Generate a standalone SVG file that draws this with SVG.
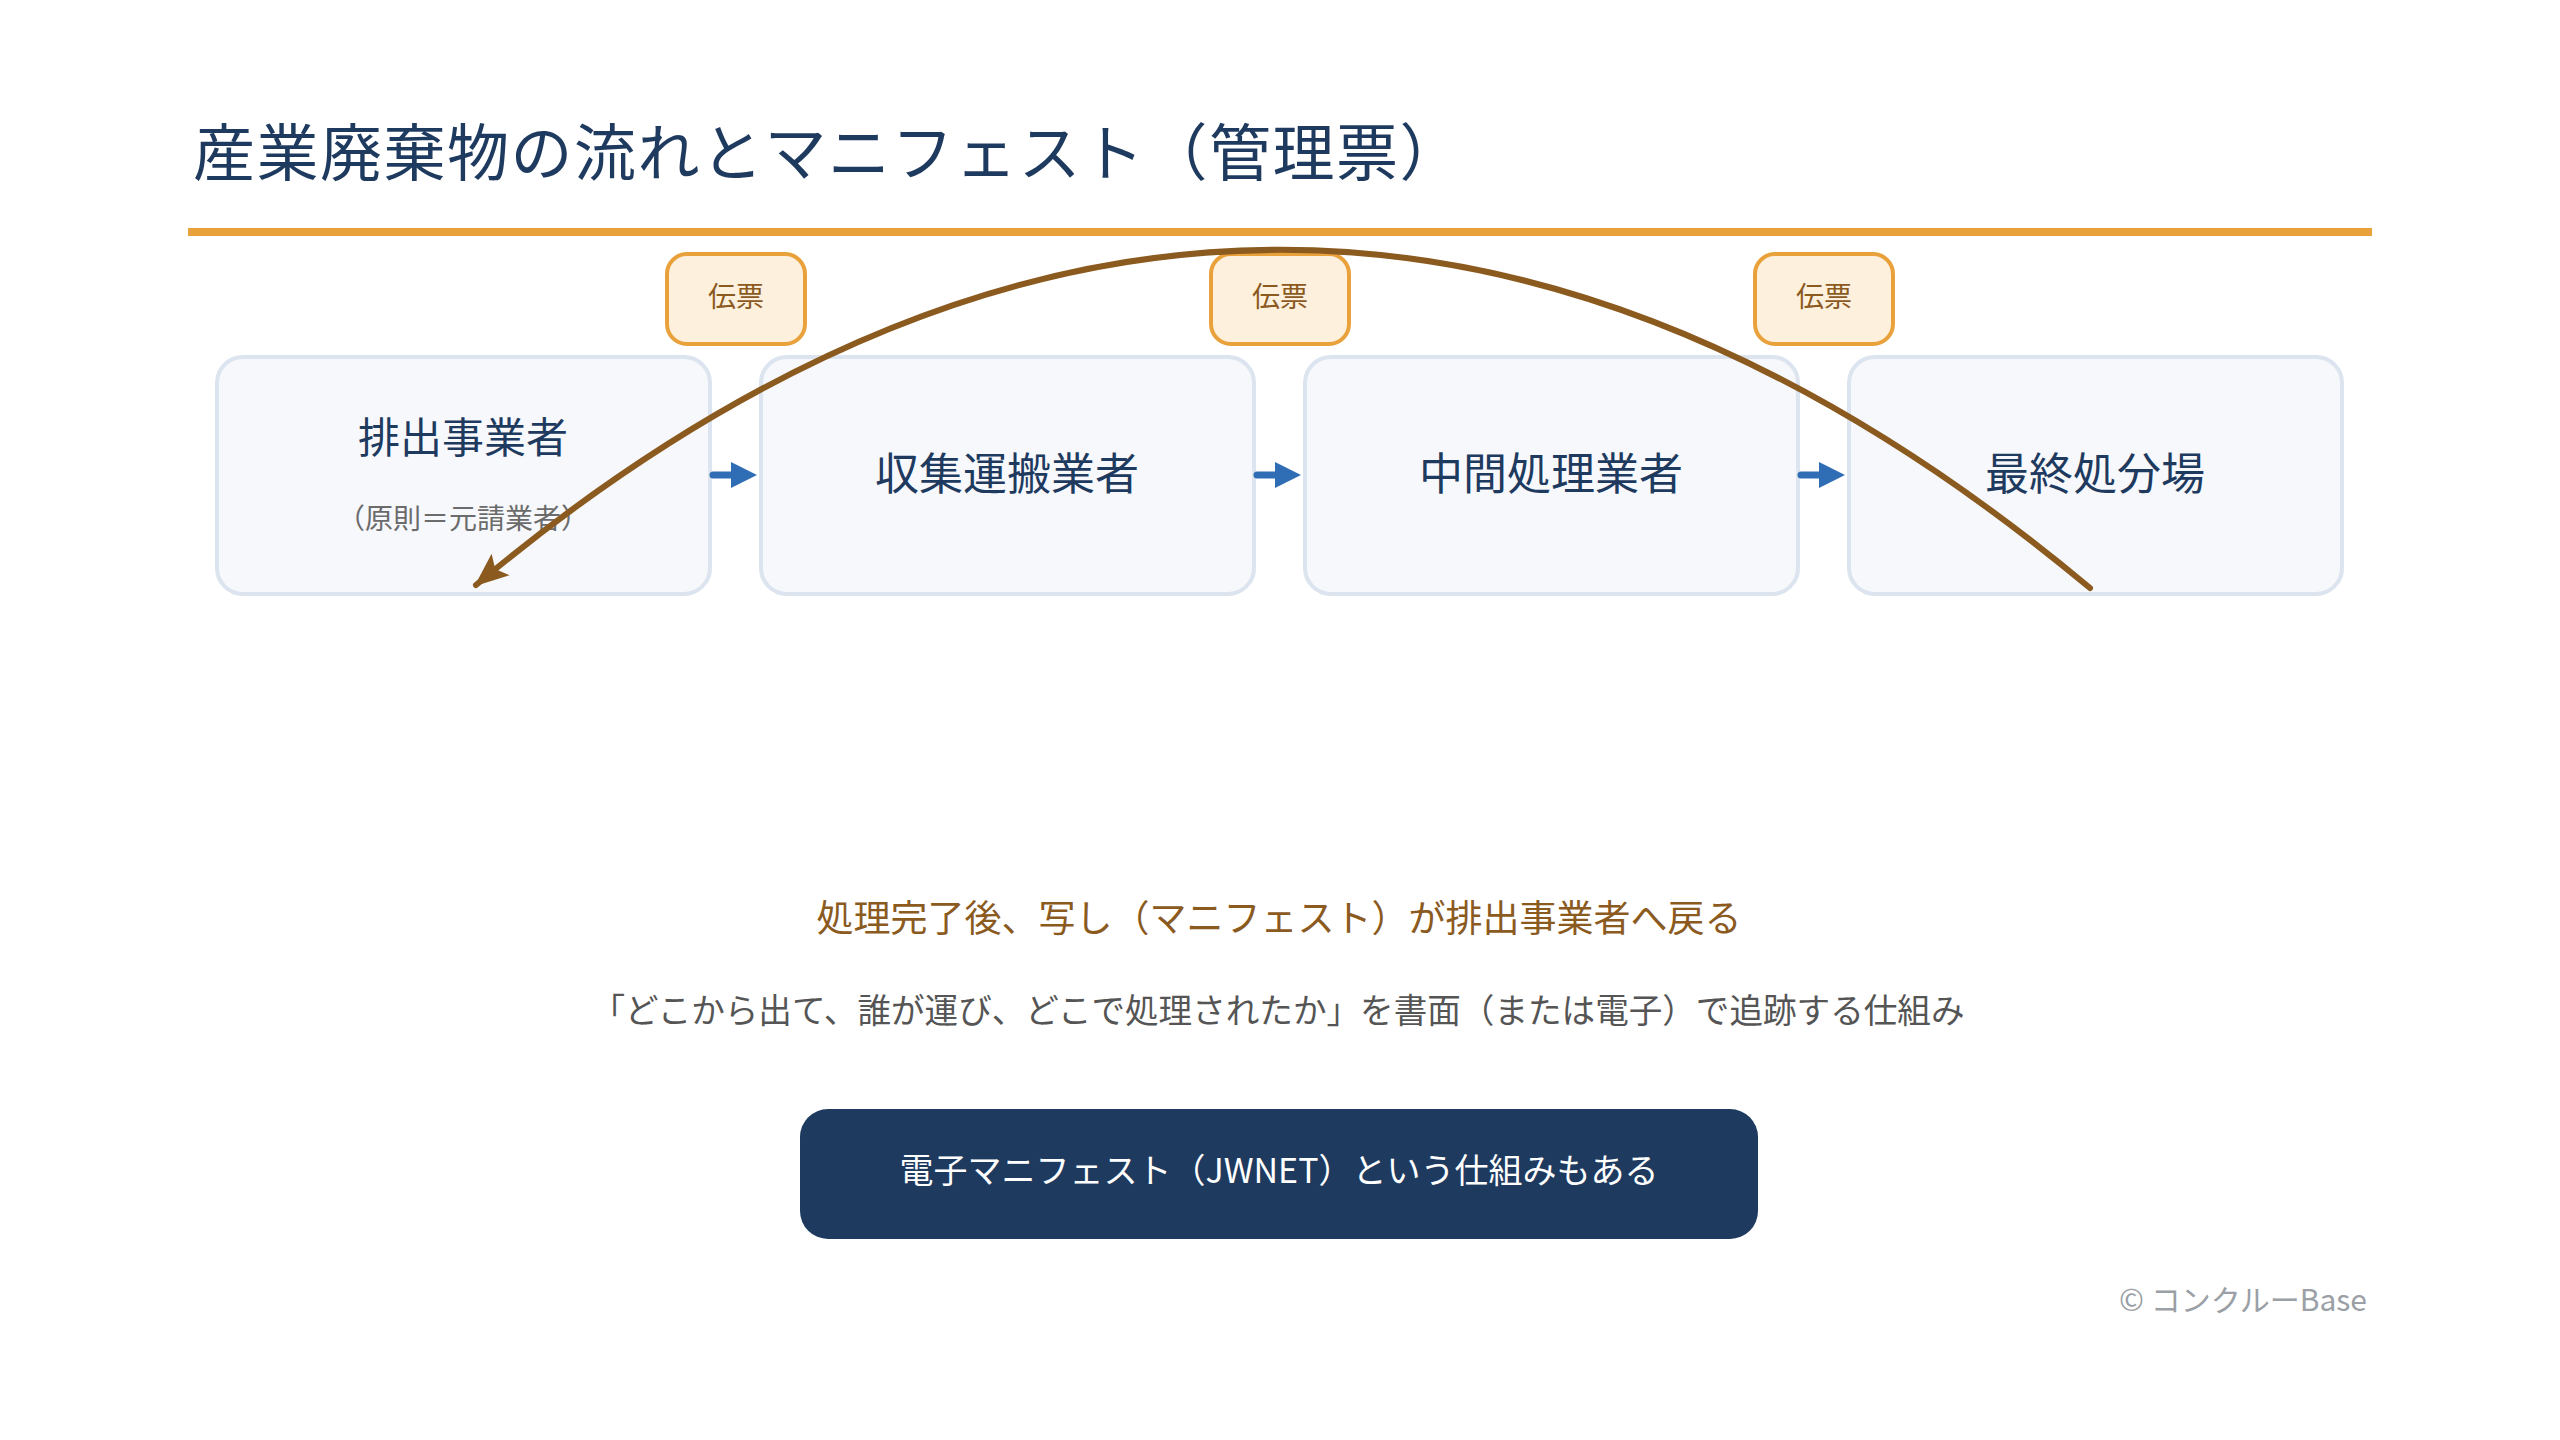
<svg xmlns="http://www.w3.org/2000/svg" width="2560" height="1440" viewBox="0 0 2560 1440">
<defs>
<style>
text{font-family:"Noto Sans CJK JP","Noto Sans",sans-serif}
.box{fill:#f6f8fc;stroke:#dbe4ef;stroke-width:4}
.lbl{font-size:44px;fill:#1e3a5f;text-anchor:middle}
.sub{font-size:28px;fill:#6b6b6b;text-anchor:middle}
.tag{fill:#fdf0dd;stroke:#e9a23b;stroke-width:4}
.tagt{font-size:28px;fill:#8b5a1f;text-anchor:middle}
.flow{stroke:#2f6db5;stroke-width:7;stroke-linecap:round;fill:none}
.head{fill:#2f6db5}
</style>
<marker id="brownHead" markerUnits="userSpaceOnUse" markerWidth="40" markerHeight="40" viewBox="0 0 40 40" refX="34" refY="20" orient="auto">
<path d="M2,6 L36,20 L2,34 L9,20 Z" fill="#8b5a1f"/>
</marker>
</defs>
<rect width="2560" height="1440" fill="#ffffff"/>
<g id="title">
<text x="193" y="176" font-size="62" font-weight="400" fill="#1e3a5f" letter-spacing="1.5">産業廃棄物の流れとマニフェスト（管理票）</text>
<rect x="188" y="228" width="2184" height="8" fill="#e9a23b"/>
</g>
<g id="node-haishutsu">
<rect class="box" x="217" y="357" width="493" height="237" rx="26"/>
<text class="lbl" x="463" y="453" style="font-size:42px">排出事業者</text>
<text class="sub" x="463" y="529">（原則＝元請業者）</text>
</g>
<g id="node-shushu">
<rect class="box" x="761" y="357" width="493" height="237" rx="26"/>
<text class="lbl" x="1007" y="490">収集運搬業者</text>
</g>
<g id="node-chukan">
<rect class="box" x="1305" y="357" width="493" height="237" rx="26"/>
<text class="lbl" x="1551" y="490">中間処理業者</text>
</g>
<g id="node-saishu">
<rect class="box" x="1849" y="357" width="493" height="237" rx="26"/>
<text class="lbl" x="2095" y="490">最終処分場</text>
</g>
<g id="tag-1">
<rect class="tag" x="667" y="254" width="138" height="90" rx="20"/>
<text class="tagt" x="736" y="307">伝票</text>
</g>
<g id="tag-2">
<rect class="tag" x="1211" y="254" width="138" height="90" rx="20"/>
<text class="tagt" x="1280" y="307">伝票</text>
</g>
<g id="tag-3">
<rect class="tag" x="1755" y="254" width="138" height="90" rx="20"/>
<text class="tagt" x="1824" y="307">伝票</text>
</g>
<g id="connectors">
<line class="flow" x1="713" y1="475" x2="735" y2="475"/>
<path class="head" d="M731,462 L757,475 L731,488 Z"/>
<line class="flow" x1="1257" y1="475" x2="1279" y2="475"/>
<path class="head" d="M1275,462 L1301,475 L1275,488 Z"/>
<line class="flow" x1="1801" y1="475" x2="1823" y2="475"/>
<path class="head" d="M1819,462 L1845,475 L1819,488 Z"/>
<path d="M2090,588 Q1281,-87 476,585" fill="none" stroke="#8b5a1f" stroke-width="6" stroke-linecap="round" marker-end="url(#brownHead)"/>
</g>
<g id="notes">
<text x="1279" y="932" font-size="37" fill="#8b5a1f" text-anchor="middle">処理完了後、写し（マニフェスト）が排出事業者へ戻る</text>
<text x="1278" y="1023" font-size="33.6" fill="#555555" text-anchor="middle">「どこから出て、誰が運び、どこで処理されたか」を書面（または電子）で追跡する仕組み</text>
</g>
<g id="jwnet">
<rect x="800" y="1109" width="958" height="130" rx="28" fill="#1e3a5f"/>
<text x="1279" y="1183" font-size="34" fill="#ffffff" text-anchor="middle">電子マニフェスト（JWNET）という仕組みもある</text>
</g>
<text x="2367" y="1311" font-size="30" fill="#9aa0a6" text-anchor="end">© コンクルーBase</text>
</svg>
